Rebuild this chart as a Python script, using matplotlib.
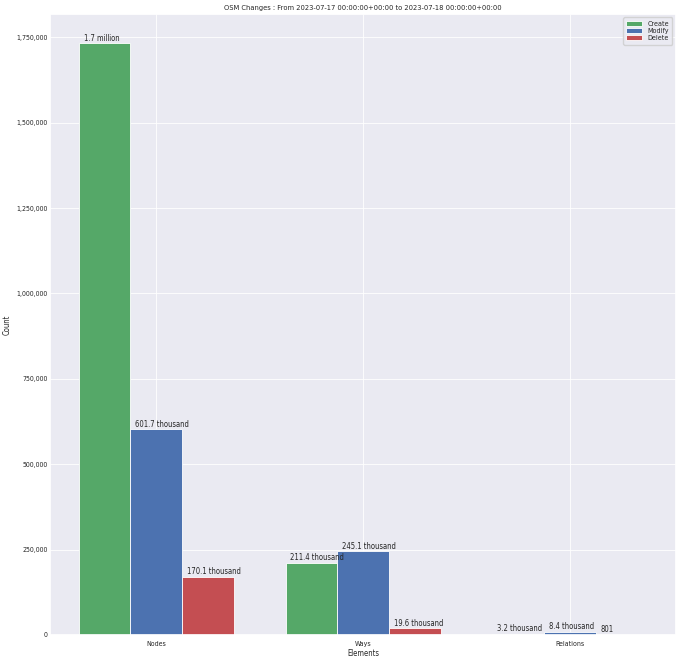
import numpy as np
import seaborn as sns
import matplotlib
matplotlib.use("Agg")
import matplotlib.pyplot as plt
from matplotlib.ticker import FuncFormatter

elements = ["Nodes", "Ways", "Relations"]
create = [1732000, 211400, 3200]
modify = [601700, 245100, 8400]
delete = [170100, 19600, 801]
series_names = ["Create", "Modify", "Delete"]


def humanize(n):
    if n >= 1e6:
        return "%.1f million" % (n / 1e6)
    if n >= 1e3:
        return "%.1f thousand" % (n / 1e3)
    return str(n)


sns.set_theme(style="darkgrid")
plt.rcParams['font.family'] = ['DejaVu Sans']
plt.rcParams['font.stretch'] = 'condensed'
plt.rcParams['grid.linewidth'] = 0.6

fig, ax = plt.subplots(figsize=(6.8, 6.6), dpi=100)
x = np.arange(len(elements))
width = 0.25
colors = ["#55A868", "#4C72B0", "#C44E52"]

for i, (name, vals) in enumerate(zip(series_names, [create, modify, delete])):
    bars = ax.bar(x + (i - 1) * width, vals, width, label=name, color=colors[i], linewidth=0.6)
    for bar, v in zip(bars, vals):
        # labels start near the left edge of each bar
        ax.annotate(humanize(v), xy=(bar.get_x(), bar.get_height()),
                    xytext=(3.5, 0.5), textcoords="offset points",
                    ha="left", va="bottom", fontsize=5.5)

ax.set_xticks(x)
ax.set_xticklabels(elements, fontsize=5)
ax.tick_params(axis='y', labelsize=5, pad=2, length=0)
ax.tick_params(axis='x', pad=4.5, length=0)
ax.yaxis.set_major_formatter(FuncFormatter(lambda v, p: "{:,.0f}".format(v)))
ax.set_xlabel("Elements", fontsize=5.5, labelpad=1)
ax.set_ylabel("Count", fontsize=5.5, labelpad=3)
ax.set_title("OSM Changes : From 2023-07-17 00:00:00+00:00 to 2023-07-18 00:00:00+00:00",
             fontsize=5.4, pad=3)
ax.legend(fontsize=5.1, loc="upper right", handlelength=2.2, borderpad=0.45, labelspacing=0.2)

fig.subplots_adjust(left=0.074, right=0.994, top=0.979, bottom=0.038)
fig.savefig("out.png")
